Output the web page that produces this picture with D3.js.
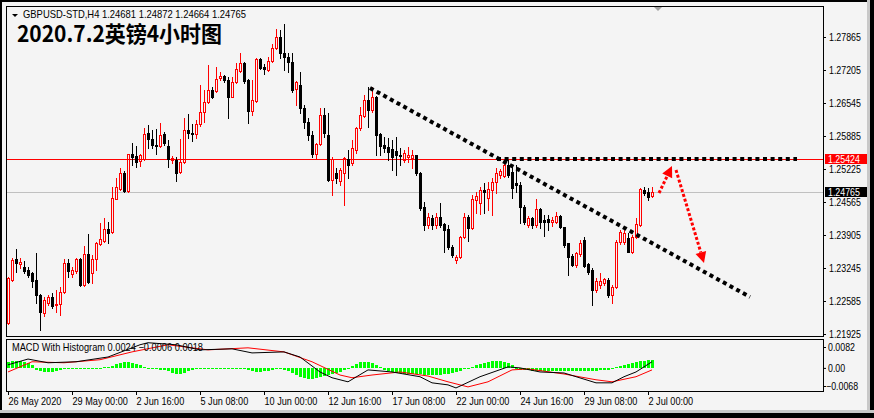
<!DOCTYPE html>
<html>
<head>
<meta charset="utf-8">
<script src="https://cdn.jsdelivr.net/npm/d3@7"></script>
<style>
body { margin: 0; background: #f4f4f4; }
svg { display: block; font-family: "Liberation Sans", Arial, sans-serif; }
</style>
</head>
<body>
<svg width="874" height="418"></svg>
<script>
// GBPUSD H4 bars, 26 May - 2 Jul 2020
const opens = [1.2215,1.2301,1.2343,1.2333,1.2327,1.2321,1.2315,1.2301,1.2271,1.2235,
1.2255,1.2267,1.2251,1.2253,1.2277,1.2335,1.2313,1.2319,1.2343,1.2291,
1.2353,1.2315,1.2343,1.2373,1.2379,1.2403,1.2397,1.2463,1.2483,1.2515,
1.2479,1.2553,1.2549,1.2539,1.2543,1.2595,1.2583,1.2571,1.2569,1.2593,
1.2569,1.2541,1.2541,1.2517,1.2537,1.2601,1.2595,1.2593,1.2613,1.2637,
1.2657,1.2681,1.2679,1.2705,1.2709,1.2701,1.2667,1.2697,1.2719,1.2735,
1.2701,1.2639,1.2659,1.2743,1.2727,1.2721,1.2739,1.2765,1.2787,1.2755,
1.2747,1.2737,1.2683,1.2691,1.2645,1.2617,1.2591,1.2553,1.2573,1.2631,
1.2591,1.2501,1.2515,1.2499,1.2515,1.2543,1.2535,1.2561,1.2605,1.2629,
1.2661,1.2641,1.2667,1.2593,1.2571,1.2567,1.2563,1.2559,1.2551,1.2541,
1.2547,1.2545,1.2551,1.2515,1.2447,1.2411,1.2425,1.2411,1.2427,1.2413,
1.2403,1.2367,1.2341,1.2347,1.2387,1.2427,1.2405,1.2461,1.2455,1.2481,
1.2465,1.2481,1.2497,1.2511,1.2509,1.2531,1.2517,1.2495,1.2491,1.2447,
1.2411,1.2425,1.2411,1.2443,1.2421,1.2423,1.2417,1.2417,1.2429,1.2407,
1.2375,1.2349,1.2331,1.2353,1.2381,1.2333,1.2321,1.2281,1.2291,1.2295,
1.2301,1.2271,1.2287,1.2377,1.2377,1.2385,1.2357,1.2387,1.2411,1.2481,
1.2477,1.24681];
const highs = [1.2307,1.2345,1.2363,1.2345,1.2339,1.2327,1.2317,1.2355,1.2273,1.2267,
1.2271,1.2275,1.2281,1.2287,1.2343,1.2343,1.2327,1.2345,1.2345,1.2369,
1.2393,1.2351,1.2377,1.2415,1.2425,1.2417,1.2487,1.2505,1.2525,1.2519,
1.2553,1.2575,1.2569,1.2553,1.2605,1.2611,1.2601,1.2603,1.2615,1.2597,
1.2581,1.2549,1.2547,1.2583,1.2625,1.2633,1.2613,1.2621,1.2691,1.2681,
1.2731,1.2687,1.2727,1.2717,1.2711,1.2707,1.2707,1.2735,1.2755,1.2737,
1.2703,1.2701,1.2745,1.2745,1.2733,1.2747,1.2773,1.2803,1.2801,1.2813,
1.2755,1.2755,1.2699,1.2717,1.2651,1.2625,1.2599,1.2575,1.2645,1.2645,
1.2635,1.2547,1.2525,1.2525,1.2547,1.2561,1.2581,1.2607,1.2647,1.2671,
1.2687,1.2687,1.2669,1.2595,1.2587,1.2585,1.2581,1.2587,1.2565,1.2561,
1.2567,1.2561,1.2551,1.2517,1.2457,1.2435,1.2431,1.2435,1.2455,1.2415,
1.2411,1.2371,1.2351,1.2389,1.2435,1.2431,1.2471,1.2477,1.2487,1.2495,
1.2497,1.2505,1.2525,1.2523,1.2541,1.2541,1.2531,1.2531,1.2497,1.2451,
1.2429,1.2427,1.2463,1.2445,1.2431,1.2431,1.2427,1.2437,1.2431,1.2407,
1.2375,1.2353,1.2357,1.2381,1.2387,1.2335,1.2325,1.2305,1.2315,1.2305,
1.2305,1.2291,1.2381,1.2401,1.2401,1.2395,1.2391,1.2425,1.2485,1.2487,
1.2485,1.24872];
const lows = [1.2213,1.2299,1.2317,1.2325,1.2315,1.2307,1.2287,1.2255,1.2201,1.2229,
1.2251,1.2245,1.2237,1.2231,1.2275,1.2307,1.2307,1.2315,1.2289,1.2289,
1.2295,1.2295,1.2321,1.2371,1.2377,1.2375,1.2395,1.2463,1.2481,1.2477,
1.2477,1.2531,1.2527,1.2529,1.2541,1.2565,1.2565,1.2553,1.2567,1.2571,
1.2527,1.2535,1.2499,1.2515,1.2535,1.2585,1.2579,1.2585,1.2609,1.2617,
1.2655,1.2665,1.2677,1.2701,1.2697,1.2625,1.2667,1.2695,1.2717,1.2695,
1.2615,1.2631,1.2657,1.2723,1.2713,1.2719,1.2737,1.2763,1.2745,1.2721,
1.2717,1.2677,1.2651,1.2635,1.2605,1.2581,1.2547,1.2543,1.2571,1.2587,
1.2499,1.2471,1.2495,1.2491,1.2451,1.2505,1.2531,1.2555,1.2601,1.2627,
1.2607,1.2637,1.2551,1.2551,1.2557,1.2541,1.2521,1.2511,1.2531,1.2537,
1.2537,1.2525,1.2511,1.2441,1.2401,1.2405,1.2403,1.2405,1.2407,1.2357,
1.2363,1.2347,1.2335,1.2345,1.2385,1.2379,1.2403,1.2435,1.2433,1.2435,
1.2441,1.2431,1.2475,1.2505,1.2507,1.2507,1.2465,1.2477,1.2415,1.2413,
1.2407,1.2405,1.2407,1.2405,1.2389,1.2401,1.2409,1.2415,1.2405,1.2367,
1.2311,1.2329,1.2327,1.2349,1.2327,1.2313,1.2251,1.2277,1.2285,1.2291,
1.2267,1.2255,1.2285,1.2373,1.2373,1.2357,1.2355,1.2385,1.2409,1.2471,
1.2461,1.24664];
const closes = [1.2305,1.2341,1.2335,1.2337,1.2319,1.2311,1.2299,1.2271,1.2237,1.2261,
1.2267,1.2249,1.2253,1.2277,1.2335,1.2319,1.2321,1.2343,1.2291,1.2353,
1.2297,1.2343,1.2375,1.2383,1.2403,1.2395,1.2465,1.2487,1.2515,1.2479,
1.2553,1.2547,1.2537,1.2551,1.2593,1.2583,1.2571,1.2569,1.2591,1.2575,
1.2543,1.2545,1.2515,1.2537,1.2601,1.2595,1.2593,1.2613,1.2637,1.2657,
1.2681,1.2667,1.2703,1.2709,1.2701,1.2667,1.2697,1.2723,1.2735,1.2699,
1.2639,1.2661,1.2743,1.2725,1.2723,1.2739,1.2765,1.2787,1.2755,1.2747,
1.2737,1.2681,1.2697,1.2645,1.2617,1.2591,1.2553,1.2573,1.2631,1.2595,
1.2501,1.2543,1.2505,1.2521,1.2545,1.2531,1.2565,1.2605,1.2631,1.2661,
1.2641,1.2667,1.2591,1.2569,1.2565,1.2557,1.2547,1.2551,1.2549,1.2555,
1.2551,1.2551,1.2515,1.2445,1.2411,1.2427,1.2411,1.2427,1.2411,1.2401,
1.2367,1.2351,1.2347,1.2387,1.2427,1.2405,1.2463,1.2469,1.2481,1.2477,
1.2483,1.2497,1.2515,1.2519,1.2531,1.2511,1.2485,1.2491,1.2447,1.2417,
1.2425,1.2411,1.2443,1.2417,1.2417,1.2417,1.2421,1.2429,1.2407,1.2371,
1.2347,1.2331,1.2355,1.2375,1.2329,1.2317,1.2281,1.2299,1.2299,1.2303,
1.2271,1.2287,1.2377,1.2397,1.2395,1.2357,1.2387,1.2413,1.2483,1.2475,
1.2467,1.24765];

const priceTicks = [1.27865,1.27205,1.26545,1.25885,1.25225,1.24565,1.23905,1.23245,1.22585,1.21925];
const levelPrice = 1.25424;
const dateIdx = [0,16,32,48,64,80,96,112,128,144,160];
const dateLabels = ["26 May 2020","29 May 00:00","2 Jun 16:00","5 Jun 08:00","10 Jun 00:00",
  "12 Jun 16:00","17 Jun 08:00","22 Jun 00:00","24 Jun 16:00","29 Jun 08:00","2 Jul 00:00"];

// MACD window
const macdIdx = [0,5,10,17,25,33,35,42,48,56,61,69,73,78,81,85,90,96,103,106,110,112,118,125,128,133,139,147,151,154,157,161];
const macdVals = [0.0009,0.0026,0.0015,0.0018,0.0032,0.0068,0.0074,0.0068,0.0053,0.0056,0.0044,0.0047,0.0032,-0.0012,-0.0029,-0.0041,-0.0006,-0.0012,-0.0026,-0.0044,-0.0050,-0.0059,-0.0026,0.0003,0.0000,-0.0012,-0.0015,-0.0044,-0.0044,-0.0026,-0.0012,0.0018];
const signalIdx = [0,6,14,23,31,40,50,60,69,76,83,86,91,98,105,110,115,120,126,130,139,147,151,157,161];
const signalVals = [-0.0012,0.0018,0.0015,0.0024,0.0047,0.0068,0.0053,0.0059,0.0047,0.0018,-0.0021,-0.0029,-0.0021,-0.0012,-0.0024,-0.0041,-0.0056,-0.0041,-0.0006,-0.0003,-0.0018,-0.0035,-0.0041,-0.0026,-0.0006];
const histVals = [0.0018,0.0021,0.0021,0.0021,0.0018,0.0015,0.0009,
-0.0006,-0.0009,-0.0012,-0.0012,-0.0012,-0.0009,
-0.0006,-0.0003,-0.0003,-0.0003,0,0,-0.0003,-0.0003,-0.0003,0,0,0.0003,0.0003,
0.0006,0.0012,0.0015,0.0018,0.0018,0.0015,0.0012,0.0009,
0.0003,0,-0.0003,-0.0003,-0.0006,-0.0006,
-0.0009,-0.0015,-0.0018,-0.0018,-0.0015,-0.0009,
-0.0006,-0.0003,-0.0003,-0.0003,-0.0003,-0.0003,-0.0003,-0.0003,-0.0003,-0.0003,-0.0003,-0.0003,-0.0003,-0.0003,
-0.0006,-0.0009,-0.0012,-0.0012,-0.0009,-0.0009,-0.0006,-0.0003,
-0.0003,-0.0006,-0.0009,-0.0015,-0.0021,-0.0026,-0.0029,-0.0032,-0.0032,-0.0029,-0.0026,-0.0024,-0.0021,-0.0018,
-0.0015,-0.0012,-0.0006,0,
0.0006,0.0012,0.0018,0.0018,0.0018,0.0015,0.0009,0.0003,
-0.0006,-0.0009,-0.0012,-0.0015,-0.0015,-0.0018,-0.0018,-0.0018,-0.0018,-0.0018,-0.0021,-0.0021,
-0.0021,-0.0021,-0.0021,-0.0018,-0.0018,-0.0015,-0.0012,-0.0009,
-0.0003,0,0.0003,
0.0009,0.0012,0.0015,0.0018,0.0021,0.0021,0.0021,0.0018,0.0015,0.0009,
-0.0003,-0.0006,-0.0006,-0.0006,-0.0009,-0.0009,-0.0009,-0.0009,-0.0009,-0.0009,-0.0009,-0.0009,-0.0009,-0.0009,-0.0009,-0.0009,-0.0009,-0.0009,-0.0009,-0.0009,-0.0009,-0.0006,-0.0006,-0.0006,-0.0003,
0.0003,0.0006,0.0009,0.0012,0.0015,0.0018,0.0021,0.0021,0.0024,0.0024];
const macdTicks = [0.0082, 0, -0.0068];

// drawn objects: [bar, price]
const trendLine = [[90.5, 1.26845], [185.5, 1.22665]];
const levelLine = [[122.25, levelPrice], [197.25, levelPrice]];
const arrowUp = [[162.75, 1.24745], [166, 1.25285]];
const arrowDown = [[167, 1.25205], [174, 1.23345]];

const svg = d3.select("svg");
const bg = "#f4f4f4";

const x = d3.scaleLinear().domain([0, 161]).range([8, 652]);
const y = d3.scaleLinear().domain([1.21925, 1.27865]).range([334, 37]);
const ym = d3.scaleLinear().domain([-0.0068, 0.0082]).range([391, 340]);

// terminal font is narrower than Liberation Sans
function squeeze(sel, f) {
  sel.each(function () {
    let w = this.getComputedTextLength();
    d3.select(this).attr("textLength", w * f).attr("lengthAdjust", "spacingAndGlyphs");
  });
}

svg.append("rect").attr("width", 874).attr("height", 418).attr("fill", bg);

let defs = svg.append("defs");
defs.append("clipPath").attr("id", "main").append("rect")
  .attr("x", 7).attr("y", 7).attr("width", 816).attr("height", 329);
defs.append("clipPath").attr("id", "sub").append("rect")
  .attr("x", 7).attr("y", 340).attr("width", 816).attr("height", 51);

let main = svg.append("g").attr("clip-path", "url(#main)");

// horizontal level + bid line
main.append("line")
  .attr("x1", 7).attr("x2", 823)
  .attr("y1", Math.round(y(levelPrice)) + 0.5).attr("y2", Math.round(y(levelPrice)) + 0.5)
  .style("stroke", "#ff0000");
main.append("line")
  .attr("x1", 7).attr("x2", 823)
  .attr("y1", Math.round(y(closes[161])) + 0.5).attr("y2", Math.round(y(closes[161])) + 0.5)
  .style("stroke", "#c0c0c0");

// candles
let bars = d3.range(opens.length).map(i => ({ i: i, o: opens[i], h: highs[i], l: lows[i], c: closes[i] }));

bars.forEach(d => {
  let cx = Math.round(x(d.i));
  let top = Math.round(y(Math.max(d.o, d.c)));
  let bot = Math.round(y(Math.min(d.o, d.c)));
  let hy = Math.round(y(d.h)), ly = Math.round(y(d.l));
  if (d.c >= d.o) {
    main.append("line").attr("x1", cx + 0.5).attr("x2", cx + 0.5).attr("y1", hy).attr("y2", top)
      .style("stroke", "#ff0000");
    main.append("line").attr("x1", cx + 0.5).attr("x2", cx + 0.5).attr("y1", bot + 1).attr("y2", ly + 1)
      .style("stroke", "#ff0000");
    main.append("rect").attr("x", cx - 0.5).attr("y", top + 0.5)
      .attr("width", 2).attr("height", Math.max(0, bot - top))
      .style("fill", "none").style("stroke", "#ff0000");
  } else {
    main.append("line").attr("x1", cx + 0.5).attr("x2", cx + 0.5).attr("y1", hy).attr("y2", ly + 1)
      .style("stroke", "#000");
    main.append("rect").attr("x", cx - 1).attr("y", top)
      .attr("width", 3).attr("height", Math.max(1, bot - top + 1))
      .style("fill", "#000");
  }
});

// dotted trend lines
function linePts(p) { return p.map(d => [x(d[0]), y(d[1])]); }
[trendLine, levelLine].forEach(l => {
  main.append("path")
    .attr("d", d3.line()(linePts(l)))
    .style("stroke", "#000")
    .style("stroke-width", 4)
    .style("stroke-dasharray", "4 3.6")
    .style("fill", "none");
});

// red dotted arrows
[arrowUp, arrowDown].forEach(a => {
  let p = linePts(a);
  let dx = p[1][0] - p[0][0], dy = p[1][1] - p[0][1];
  let len = Math.sqrt(dx * dx + dy * dy);
  let ux = dx / len, uy = dy / len;
  let bx = p[1][0] - ux * 11, by = p[1][1] - uy * 11;
  main.append("path")
    .attr("d", d3.line()([p[0], [bx, by]]))
    .style("stroke", "#ff0000")
    .style("stroke-width", 3)
    .style("stroke-dasharray", "3 2")
    .style("fill", "none");
  main.append("path")
    .attr("d", d3.line()([p[1], [bx - uy * 5.5, by + ux * 5.5], [bx + uy * 5.5, by - ux * 5.5]]) + "Z")
    .style("fill", "#ff0000");
});

// MACD subwindow
let sub = svg.append("g").attr("clip-path", "url(#sub)");
sub.selectAll(".hist")
  .data(histVals)
  .join("rect")
  .attr("x", (d, i) => Math.round(x(i)) - 1)
  .attr("y", d => d >= 0 ? Math.round(ym(d)) : Math.round(ym(0)))
  .attr("width", 3)
  .attr("height", d => Math.max(1, Math.abs(Math.round(ym(d)) - Math.round(ym(0)))))
  .style("fill", "#00ff00");

sub.append("path")
  .attr("d", d3.line().x((d, k) => x(signalIdx[k])).y(d => ym(d))(signalVals))
  .style("fill", "none").style("stroke", "#ff0000").style("stroke-width", 1);
sub.append("path")
  .attr("d", d3.line().x((d, k) => x(macdIdx[k])).y(d => ym(d))(macdVals))
  .style("fill", "none").style("stroke", "#000").style("stroke-width", 1);

// frames
svg.append("rect").attr("x", 6.5).attr("y", 6.5).attr("width", 817).attr("height", 330)
  .style("fill", "none").style("stroke", "#000");
svg.append("rect").attr("x", 6.5).attr("y", 339.5).attr("width", 817).attr("height", 52)
  .style("fill", "none").style("stroke", "#000");

// price axis
let gy = svg.append("g").attr("transform", "translate(823,0)")
  .call(d3.axisRight(y).tickValues(priceTicks).tickSize(3).tickPadding(3).tickFormat(d3.format(".5f")));
gy.attr("font-family", null).attr("font-size", 10.5);
gy.select(".domain").remove();
gy.selectAll("line").style("stroke", "#000");
gy.selectAll("text").style("fill", "#000").call(squeeze, 0.84);

// price tags
let tags = [[levelPrice, "#ff0000"], [closes[161], "#000"]];
tags.forEach(t => {
  let ty = Math.round(y(t[0]));
  svg.append("rect").attr("x", 825).attr("y", ty - 5).attr("width", 42).attr("height", 10).style("fill", t[1]);
  svg.append("text").attr("x", 828).attr("y", ty + 3.5).attr("font-size", 10.5)
    .style("fill", "#fff").text(d3.format(".5f")(t[0])).call(squeeze, 0.84);
});

// MACD axis labels
let gm = svg.append("g");
macdTicks.forEach(v => {
  let ty = Math.min(Math.max(ym(v), 347), 386);
  gm.append("line").attr("x1", 823).attr("x2", 826).attr("y1", ty + 0.5).attr("y2", ty + 0.5).style("stroke", "#000");
  gm.append("text").attr("x", v < 0 ? 826 : 828).attr("y", ty + 4).attr("font-size", 10.5)
    .text(v === 0 ? "0.00" : d3.format(".4f")(v)).call(squeeze, 0.84);
});

// time axis
let gx = svg.append("g").attr("transform", "translate(0,391)")
  .call(d3.axisBottom(x).tickValues(dateIdx).tickSize(4).tickPadding(3).tickFormat((d, i) => dateLabels[i]));
gx.attr("font-family", null).attr("font-size", 10.5);
gx.select(".domain").remove();
gx.selectAll("line").style("stroke", "#000");
gx.selectAll("text").attr("text-anchor", "start").attr("x", 0).style("fill", "#000").call(squeeze, 0.87);

// header texts
svg.append("path").attr("d", "M12,14L18,14L15,17Z").style("fill", "#000");
svg.append("text").attr("x", 23).attr("y", 18).attr("font-size", 10.5)
  .text("GBPUSD-STD,H4  " + [opens[161], highs[161], lows[161], closes[161]].map(d3.format(".5f")).join(" "))
  .attr("textLength", 223).attr("lengthAdjust", "spacingAndGlyphs");
svg.append("text").attr("x", 17).attr("y", 42)
  .style("font-family", "'Noto Sans CJK SC', sans-serif").style("font-weight", "bold").style("font-size", "22px")
  .attr("textLength", 205).attr("lengthAdjust", "spacingAndGlyphs")
  .text("2020.7.2英镑4小时图");
svg.append("text").attr("x", 12).attr("y", 351).attr("font-size", 10.5)
  .text("MACD With Histogram " + d3.format(".4f")(histVals[161]) + " " + d3.format(".4f")(signalVals[signalVals.length - 1]) + " " + d3.format(".4f")(macdVals[macdVals.length - 1]))
  .attr("textLength", 191).attr("lengthAdjust", "spacingAndGlyphs");

// chart shift marker
svg.append("path").attr("d", "M654,7L662,7L658,11Z").style("fill", "#a0a0a0");

// window border
svg.append("rect").attr("x", 0).attr("y", 0).attr("width", 874).attr("height", 2).style("fill", "#000");
svg.append("rect").attr("x", 0).attr("y", 0).attr("width", 2).attr("height", 418).style("fill", "#000");
svg.append("rect").attr("x", 867).attr("y", 0).attr("width", 3).attr("height", 418).style("fill", "#c8c8c8");
svg.append("rect").attr("x", 870).attr("y", 0).attr("width", 4).attr("height", 418).style("fill", "#000");
svg.append("rect").attr("x", 0).attr("y", 410).attr("width", 874).attr("height", 3).style("fill", "#c8c8c8");
svg.append("rect").attr("x", 0).attr("y", 413).attr("width", 874).attr("height", 5).style("fill", "#000");
</script>
</body>
</html>
